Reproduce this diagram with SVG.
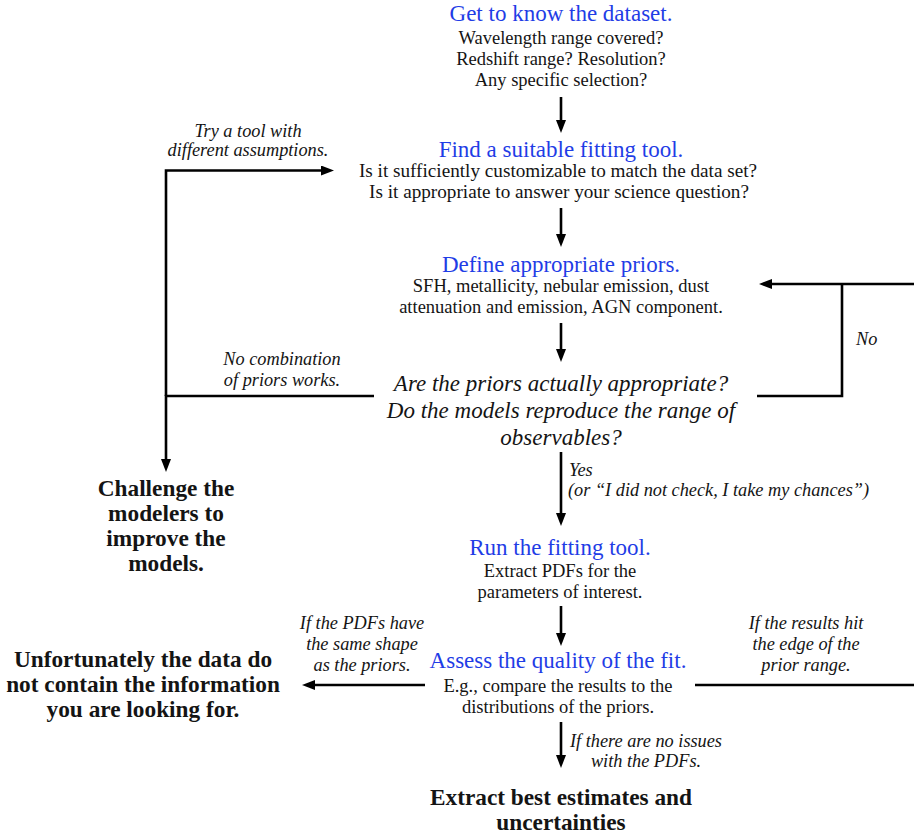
<svg xmlns="http://www.w3.org/2000/svg" width="914" height="834" viewBox="0 0 914 834">
<style>
.t { font-size: 23px; fill: #1f3de6; text-anchor: middle; }
.b { font-size: 18.5px; fill: #141414; text-anchor: middle; }
.b2 { font-size: 19.2px; fill: #141414; text-anchor: middle; }
.i { font-size: 18.3px; fill: #141414; font-style: italic; text-anchor: middle; }
.il { font-size: 18.3px; fill: #141414; font-style: italic; text-anchor: start; }
.q { font-size: 23px; fill: #141414; font-style: italic; text-anchor: middle; }
.bd { font-size: 23.3px; fill: #141414; font-weight: bold; text-anchor: middle; }
.c { fill: none; stroke: #000; stroke-width: 2.6; }
.ca { fill: none; stroke: #000; stroke-width: 2.6; marker-end: url(#ah); }
</style>
<defs>
<marker id="ah" viewBox="0 0 13 10" refX="4" refY="5" markerWidth="13" markerHeight="10" markerUnits="userSpaceOnUse" orient="auto">
<path d="M0,0 L13,5 L0,10 z" fill="#000"/>
</marker>
</defs>
<rect width="914" height="834" fill="#fff"/>

<g id="connectors">
<path class="ca" d="M561,97 V124"/>
<path class="ca" d="M561,208 V238"/>
<path class="ca" d="M561,323 V353"/>
<path class="ca" d="M561,452 V517"/>
<path class="ca" d="M561,606 V637"/>
<path class="ca" d="M561,722 V759"/>
<path class="ca" d="M374,396 H166 V463"/>
<path class="ca" d="M166,396 V170.5 H325"/>
<path class="c" d="M757,396 H842 V284"/>
<path class="ca" d="M914,284 H768"/>
<path class="ca" d="M425,685 H311"/>
<path class="c" d="M695,685 H914"/>
</g>

<g font-family="Liberation Serif, Times New Roman, serif">
<g id="node-dataset">
<text class="t" x="561" y="21">Get to know the dataset.</text>
<text class="b" x="561" y="44">Wavelength range covered?</text>
<text class="b" x="561" y="65">Redshift range? Resolution?</text>
<text class="b" x="561" y="86">Any specific selection?</text>
</g>

<g id="node-tool">
<text class="t" x="561" y="157">Find a suitable fitting tool.</text>
<text class="b2" x="558" y="177">Is it sufficiently customizable to match the data set?</text>
<text class="b2" x="559" y="198">Is it appropriate to answer your science question?</text>
</g>

<g id="node-priors">
<text class="t" x="561" y="272">Define appropriate priors.</text>
<text class="b" x="561" y="292">SFH, metallicity, nebular emission, dust</text>
<text class="b" x="561" y="313">attenuation and emission, AGN component.</text>
</g>

<g id="node-question">
<text class="q" x="561" y="391">Are the priors actually appropriate?</text>
<text class="q" x="561" y="418">Do the models reproduce the range of</text>
<text class="q" x="561" y="445">observables?</text>
</g>

<g id="node-run">
<text class="t" x="560" y="555">Run the fitting tool.</text>
<text class="b" x="560" y="577">Extract PDFs for the</text>
<text class="b" x="560" y="598">parameters of interest.</text>
</g>

<g id="node-assess">
<text class="t" x="558" y="668">Assess the quality of the fit.</text>
<text class="b" x="558" y="692">E.g., compare the results to the</text>
<text class="b" x="558" y="713">distributions of the priors.</text>
</g>

<g id="node-extract">
<text class="bd" x="561" y="805">Extract best estimates and</text>
<text class="bd" x="561" y="830">uncertainties</text>
</g>

<g id="node-challenge">
<text class="bd" x="166" y="496">Challenge the</text>
<text class="bd" x="166" y="521">modelers to</text>
<text class="bd" x="166" y="546">improve the</text>
<text class="bd" x="166" y="571">models.</text>
</g>

<g id="node-nodata">
<text class="bd" x="143" y="667">Unfortunately the data do</text>
<text class="bd" x="143" y="692">not contain the information</text>
<text class="bd" x="143" y="717">you are looking for.</text>
</g>

<g id="labels">
<text class="i" x="248" y="137">Try a tool with</text>
<text class="i" x="248" y="156">different assumptions.</text>
<text class="i" x="282" y="365">No combination</text>
<text class="i" x="282" y="386">of priors works.</text>
<text class="il" x="856" y="345">No</text>
<text class="il" x="569" y="476">Yes</text>
<text class="il" x="568" y="496">(or “I did not check, I take my chances”)</text>
<text class="i" x="362" y="629">If the PDFs have</text>
<text class="i" x="362" y="650">the same shape</text>
<text class="i" x="362" y="671">as the priors.</text>
<text class="i" x="806" y="629">If the results hit</text>
<text class="i" x="806" y="650">the edge of the</text>
<text class="i" x="806" y="671">prior range.</text>
<text class="i" x="646" y="747">If there are no issues</text>
<text class="i" x="646" y="767">with the PDFs.</text>
</g>
</g>
</svg>
